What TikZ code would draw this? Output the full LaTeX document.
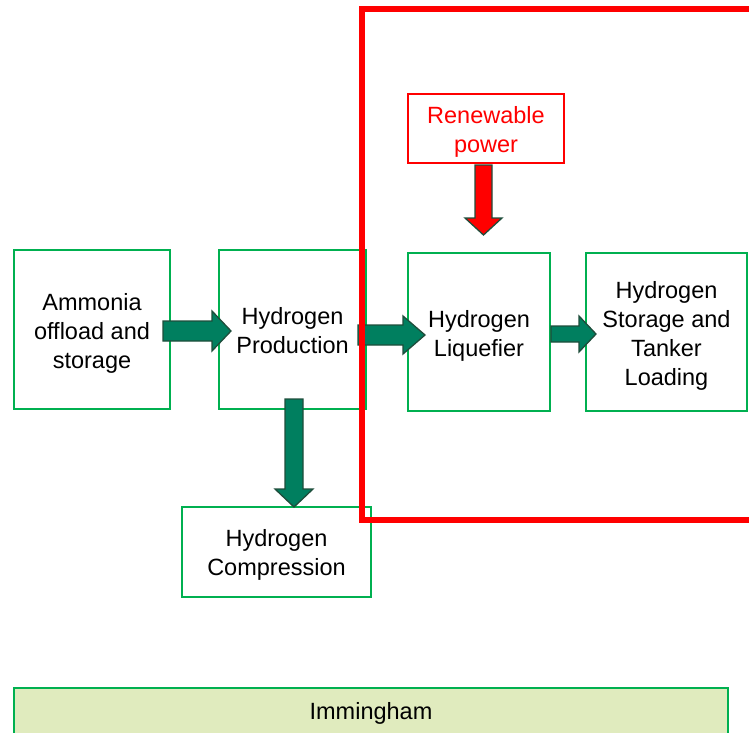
\documentclass[tikz,border=0pt]{standalone}
\usepackage{fontspec}
\setmainfont{Liberation Sans}
\begin{document}
\begin{tikzpicture}[x=1pt,y=-1pt,
  stage/.style={draw=boxgreen, line width=1.5pt, fill=white, inner sep=0pt},
  caption/.style={align=center, inner sep=0pt, font=\fontsize{23.5}{29}\selectfont},
  flow/.style={fill=arrowgreen, draw=arrowedge, line width=1.3pt, line join=miter},
  powerflow/.style={fill=red, draw=arrowedge, line width=1.3pt, line join=miter}]
\definecolor{boxgreen}{HTML}{00B050}
\definecolor{arrowgreen}{HTML}{007F5F}
\definecolor{arrowedge}{HTML}{1E4D3B}
\definecolor{sitefill}{HTML}{E0EBBE}
\useasboundingbox (0,0) rectangle (749,732);
\clip (0,0) rectangle (749,732);

% process stages (frames)
\node[stage, minimum width=156, minimum height=159] (ammonia) at (92,329.5) {};
\node[stage, minimum width=147, minimum height=159] (production) at (292.5,329.5) {};
\node[stage, minimum width=142, minimum height=158] (liquefier) at (479,332) {};
\node[stage, minimum width=161, minimum height=158] (storage) at (666.5,332) {};
\node[stage, minimum width=189, minimum height=90] (compression) at (276.5,552) {};
\node[stage, draw=red, minimum width=156, minimum height=69] (power) at (486,128.5) {};
\node[stage, fill=sitefill, minimum width=714, minimum height=60] (site) at (371,718) {};

% stage captions
\node[caption] (ammonia-text) at ([yshift=-3.5]ammonia.center) {Ammonia\\offload and\\storage};
\node[caption] (production-text) at ([yshift=-1]production.center) {Hydrogen\\Production};
\node[caption] (liquefier-text) at ([yshift=-3.5]liquefier.center) {Hydrogen\\Liquefier};
\node[caption] (storage-text) at ([yshift=-3.5]storage.center) {Hydrogen\\Storage and\\Tanker\\Loading};
\node[caption] (compression-text) at ([yshift=-3]compression.center) {Hydrogen\\Compression};
\node[caption, text=red] (power-text) at ([yshift=-3]power.center) {Renewable\\power};
\node[caption] (site-text) at (371,713.5) {Immingham};

% block arrows between stages
\draw[flow] (163,321) -- (212,321) -- (212,311) -- (231,331) -- (212,351)
  -- (212,341) -- (163,341) -- cycle;
\draw[flow] (358,325) -- (403,325) -- (403,316) -- (425,335) -- (403,354)
  -- (403,345) -- (358,345) -- cycle;
\draw[flow] (551,326) -- (579,326) -- (579,316) -- (596,334) -- (579,352)
  -- (579,342) -- (551,342) -- cycle;
\draw[flow] (285,399) -- (303,399) -- (303,489) -- (313,489) -- (294,507)
  -- (275,489) -- (285,489) -- cycle;
\draw[powerflow] (475,165) -- (492,165) -- (492,218) -- (502,218) -- (483.5,235)
  -- (465,218) -- (475,218) -- cycle;

% boundary of the renewable-powered area
\draw[red, line width=5.5pt] (770,9) -- (362,9) -- (362,520) -- (770,520);
\end{tikzpicture}
\end{document}
